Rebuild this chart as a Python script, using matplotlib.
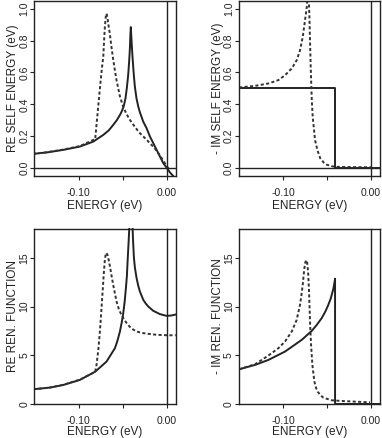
import matplotlib
matplotlib.use("Agg")
import matplotlib.pyplot as plt

plt.rcParams["font.family"] = ["Liberation Sans", "DejaVu Sans"]

# ---- RE SELF ENERGY (eV) ----
re_se_solid_x = [-0.152, -0.1367, -0.1178, -0.0989, -0.0837, -0.0723, -0.066, -0.061,
                 -0.057, -0.0534, -0.051, -0.049, -0.047, -0.0455, -0.0440, -0.0428,
                 -0.0420, -0.0415, -0.0410, -0.0405, -0.0398, -0.0390, -0.0383, -0.0374,
                 -0.0364, -0.0345, -0.0325, -0.0307, -0.0269, -0.0231, -0.0193, -0.0155,
                 -0.0117, -0.008, -0.0042, 0.0, 0.0034, 0.0065, 0.010]
re_se_solid_y = [0.089, 0.098, 0.114, 0.135, 0.166, 0.208, 0.237, 0.271,
                 0.30, 0.333, 0.36, 0.39, 0.44, 0.505, 0.585, 0.68,
                 0.76, 0.84, 0.885, 0.83, 0.76, 0.69, 0.635, 0.57,
                 0.51, 0.435, 0.385, 0.35, 0.291, 0.25, 0.198, 0.156,
                 0.114, 0.073, 0.031, 0.0, -0.027, -0.046, -0.07]
re_se_dash_x = [-0.152, -0.1367, -0.1178, -0.0989, -0.0815, -0.079, -0.0765, -0.074,
                -0.0723, -0.0712, -0.0705, -0.0693, -0.0685, -0.0675, -0.0662, -0.0648,
                -0.063, -0.061, -0.059, -0.0572, -0.0534, -0.0497, -0.046, -0.042,
                -0.036, -0.0307, -0.025, -0.0193, -0.014, -0.008, -0.004, 0.0, 0.003]
re_se_dash_y = [0.089, 0.099, 0.116, 0.138, 0.182, 0.33, 0.48, 0.62,
                0.70, 0.82, 0.885, 0.96, 0.97, 0.94, 0.89, 0.84,
                0.76, 0.68, 0.61, 0.55, 0.45, 0.385, 0.34, 0.302,
                0.255, 0.219, 0.188, 0.156, 0.125, 0.08, 0.045, 0.01, -0.012]

# ---- - IM SELF ENERGY (eV) ----
im_se_solid_x = [-0.152, -0.041, -0.041, 0.010]
im_se_solid_y = [0.5, 0.5, 0.0, 0.0]
im_se_dash_x = [-0.1505, -0.1323, -0.1171, -0.1057, -0.0981, -0.0905, -0.0848, -0.081,
                -0.0779, -0.0753, -0.0733, -0.0715, -0.0703, -0.0695, -0.0688, -0.0676,
                -0.0665, -0.065, -0.0639, -0.061, -0.058, -0.054, -0.0505, -0.045,
                -0.041, -0.020, 0.0]
im_se_dash_y = [0.506, 0.516, 0.531, 0.552, 0.583, 0.625, 0.677, 0.739,
                0.823, 0.927, 1.01, 1.15, 0.95, 0.78, 0.635, 0.43,
                0.32, 0.24, 0.177, 0.11, 0.062, 0.035, 0.021, 0.012,
                0.008, 0.006, 0.005]

# ---- RE REN. FUNCTION ----
re_rf_solid_x = [-0.152, -0.133, -0.1178, -0.0989, -0.0814, -0.0686, -0.0591, -0.0565,
                 -0.0534, -0.0515, -0.0496, -0.048, -0.0466, -0.0455, -0.0447, -0.0440,
                 -0.0432, -0.0428, -0.0410, -0.0390, -0.0384, -0.0375, -0.0364, -0.0345,
                 -0.0325, -0.0307, -0.0269, -0.024, -0.0212, -0.0156, -0.008, -0.0004,
                 0.0053, 0.010]
re_rf_solid_y = [1.51, 1.68, 1.95, 2.47, 3.32, 4.35, 5.72, 6.4,
                 7.43, 8.3, 9.32, 10.5, 11.89, 13.1, 14.6, 15.8,
                 17.2, 18.0, 25.0, 18.0, 16.6, 15.0, 14.0, 12.92,
                 12.1, 11.54, 10.69, 10.3, 10.0, 9.56, 9.22, 9.04,
                 9.08, 9.18]
re_rf_dash_x = [-0.152, -0.133, -0.1178, -0.0989, -0.0815, -0.080, -0.078, -0.076,
                -0.0745, -0.073, -0.0718, -0.0705, -0.0695, -0.069, -0.0675, -0.066,
                -0.0645, -0.0628, -0.061, -0.059, -0.0572, -0.0545, -0.0515, -0.0485,
                -0.0458, -0.042, -0.0385, -0.035, -0.031, -0.027, -0.020, -0.0117,
                0.0, 0.010]
re_rf_dash_y = [1.51, 1.69, 1.97, 2.50, 3.30, 4.0, 5.5, 7.6,
                9.6, 11.6, 13.3, 14.8, 15.4, 15.5, 15.3, 14.7,
                14.0, 13.1, 12.2, 11.3, 10.5, 9.7, 9.1, 8.65,
                8.3, 7.9, 7.65, 7.45, 7.35, 7.27, 7.18, 7.1,
                7.05, 7.05]

# ---- - IM REN. FUNCTION ----
im_rf_solid_x = [-0.1505, -0.1323, -0.1171, -0.0981, -0.079, -0.0676, -0.062, -0.0563,
                 -0.052, -0.0487, -0.046, -0.0448, -0.043, -0.0418, -0.041, -0.041, 0.010]
im_rf_solid_y = [3.56, 4.01, 4.52, 5.38, 6.58, 7.5, 8.1, 8.8,
                 9.5, 10.17, 10.8, 11.2, 11.8, 12.4, 12.85, 0.0, 0.0]
im_rf_dash_x = [-0.1505, -0.1323, -0.1171, -0.1057, -0.0981, -0.0905, -0.0848, -0.081,
                -0.0795, -0.0779, -0.077, -0.076, -0.075, -0.0741, -0.073, -0.0718,
                -0.0707, -0.0696, -0.0684, -0.0669, -0.0646, -0.0625, -0.0608, -0.0575,
                -0.0544, -0.0448, -0.0334, -0.0011]
im_rf_dash_y = [3.56, 4.08, 4.97, 5.72, 6.41, 7.43, 8.63, 10.17,
                11.1, 12.23, 13.1, 13.94, 14.5, 14.75, 14.63, 13.6,
                11.54, 8.46, 6.06, 4.01, 2.29, 1.6, 1.26, 0.9,
                0.65, 0.38, 0.31, 0.17]

xlim = (-0.151, 0.0103)
xticks = [-0.10, -0.05, 0.0]
xticklabels = ["-0.10", "", "0.00"]

W, H = 382, 438
fig = plt.figure(figsize=(W / 100, H / 100), dpi=100)


def make_axes(left, top, right, bottom):
    return fig.add_axes([left / W, 1 - bottom / H, (right - left) / W, (bottom - top) / H])


panels = [
    (make_axes(34, 0.5, 176, 175.7), re_se_solid_x, re_se_solid_y, re_se_dash_x, re_se_dash_y,
     (-0.048, 1.052), [0.0, 0.2, 0.4, 0.6, 0.8, 1.0], ["0.0", "0.2", "0.4", "0.6", "0.8", "1.0"],
     "RE SELF ENERGY (eV)", True, 1.0),
    (make_axes(238.7, 0.5, 380, 175.7), im_se_solid_x, im_se_solid_y, im_se_dash_x, im_se_dash_y,
     (-0.048, 1.052), [0.0, 0.2, 0.4, 0.6, 0.8, 1.0], ["0.0", "0.2", "0.4", "0.6", "0.8", "1.0"],
     "- IM SELF ENERGY (eV)", True, 1.0),
    (make_axes(34, 228.5, 176, 404), re_rf_solid_x, re_rf_solid_y, re_rf_dash_x, re_rf_dash_y,
     (0, 18), [0, 5, 10, 15], ["0", "5", "10", "15"], "RE REN. FUNCTION", False, -0.5),
    (make_axes(238.7, 228.5, 380, 404), im_rf_solid_x, im_rf_solid_y, im_rf_dash_x, im_rf_dash_y,
     (0, 18), [0, 5, 10, 15], ["0", "5", "10", "15"], "- IM REN. FUNCTION", False, -0.5),
]

for ax, sx, sy, dx, dy, ylim, yt, ytl, ylabel, zero_line, xpad in panels:
    ax.plot(sx, sy, color="#222222", lw=1.4)
    ax.plot(dx, dy, color="#333333", lw=1.4, linestyle=(0, (1.6, 1.2)))
    ax.axvline(0, color="#222222", lw=1.0)
    if zero_line:
        ax.axhline(0, color="#222222", lw=1.0)
    ax.set_xlim(*xlim)
    ax.set_ylim(*ylim)
    ax.set_xticks(xticks)
    ax.set_xticklabels(xticklabels)
    ax.set_yticks(yt)
    ax.set_yticklabels(ytl, rotation=90, va="center")
    ax.tick_params(direction="out", length=3, width=0.8, labelsize=7.5, color="#222222",
                   labelcolor="#222222")
    ax.tick_params(axis="x", pad=6)
    ax.tick_params(axis="y", pad=0.5)
    for sp in ax.spines.values():
        sp.set_linewidth(1.0)
        sp.set_color("#222222")
    ax.set_xlabel("ENERGY (eV)", fontsize=8.5, color="#222222", labelpad=xpad)
    ax.set_ylabel(ylabel, fontsize=8.5, color="#222222", labelpad=0)

fig.savefig("out.png", dpi=100)
